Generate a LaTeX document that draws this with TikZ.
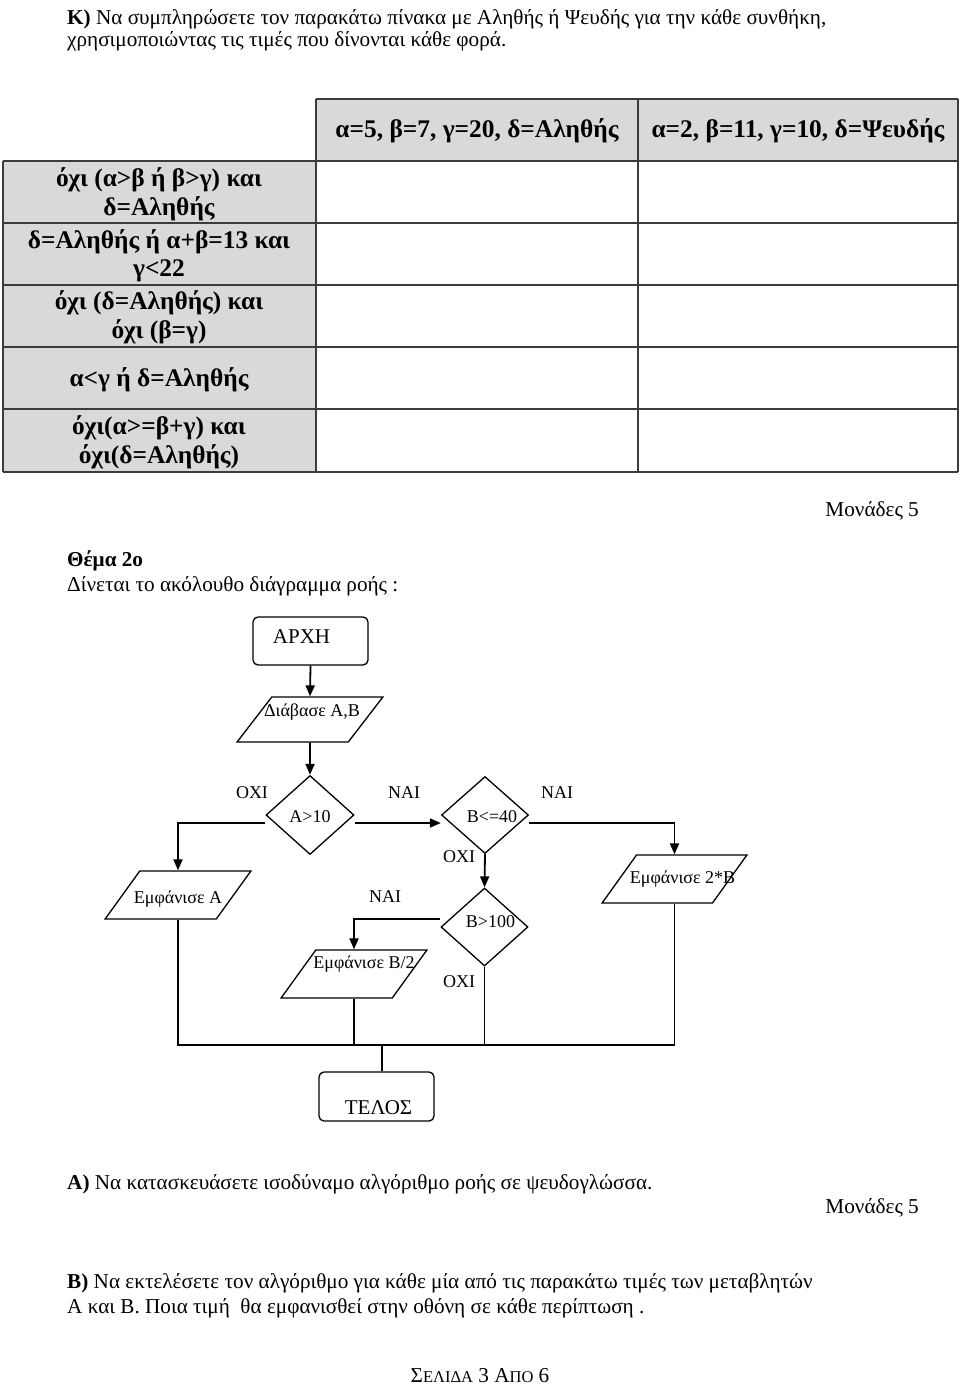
\documentclass[tikz,border=0pt]{standalone}
\usepackage{fontspec}
\setmainfont{Liberation Serif}
\usetikzlibrary{shapes.geometric,arrows.meta}
\definecolor{cellgray}{RGB}{217,217,217}
\definecolor{gridline}{RGB}{60,60,60}
\newcommand\bodyfs{\fontsize{21.2}{25}\selectfont}
\newcommand\tabfs{\fontsize{25.4}{29}\selectfont\bfseries}
\newcommand\flowfs{\fontsize{18}{21}\selectfont}
\newcommand\termfs{\fontsize{21}{24}\selectfont}
\begin{document}
\begin{tikzpicture}[x=1pt,y=-1pt,
  txt/.style={inner sep=0pt,font=\bodyfs},
  tabtxt/.style={inner sep=0pt,font=\tabfs,anchor=mid},
  flbl/.style={inner sep=0pt,font=\flowfs,anchor=mid},
  term/.style={draw,line width=1.3pt,rounded corners=5pt,minimum width=115pt,minimum height=48pt,inner sep=0pt},
  io/.style={draw,line width=1.3pt,trapezium,trapezium left angle=60,trapezium right angle=120,trapezium stretches=true,minimum width=146pt,minimum height=48pt,inner sep=1pt},
  dec/.style={draw,line width=1.3pt,diamond,minimum width=88pt,minimum height=79pt,inner sep=0pt},
  arr/.style={line width=1.8pt,-{Triangle[length=11pt,width=9pt]}},
  ln/.style={line width=1.3pt}]
\useasboundingbox (0,0) rectangle (960,1387);

% ---------- heading ----------
\node[txt,anchor=mid west] (t1) at (67,22) {\textbf{Κ)} Να συμπληρώσετε τον παρακάτω πίνακα με Αληθής ή Ψευδής για την κάθε συνθήκη,};
\node[txt,anchor=mid west] (t2) at (67,44) {χρησιμοποιώντας τις τιμές που δίνονται κάθε φορά.};

% ---------- table ----------
\fill[cellgray] (316,99) rectangle (958,161);
\fill[cellgray] (3,161) rectangle (316,472);
\draw[gridline,line width=1.4pt] (316,99) -- (958,99);
\foreach \yy in {161,223,285,347,409,472} \draw[gridline,line width=1.4pt] (3,\yy) -- (958,\yy);
\draw[gridline,line width=1.4pt] (3,161) -- (3,472);
\foreach \xx in {316,638,958} \draw[gridline,line width=1.4pt] (\xx,99) -- (\xx,472);

\node[tabtxt] (h1) at (477,135) {α=5, β=7, γ=20, δ=Αληθής};
\node[tabtxt] (h2) at (798,135) {α=2, β=11, γ=10, δ=Ψευδής};
\node[tabtxt] (r1a) at (159,184) {όχι (α>β ή β>γ) και};
\node[tabtxt] (r1b) at (159,213) {δ=Αληθής};
\node[tabtxt] (r2a) at (159,246) {δ=Αληθής ή α+β=13 και};
\node[tabtxt] (r2b) at (159,274) {γ<22};
\node[tabtxt] (r3a) at (159,307) {όχι (δ=Αληθής) και};
\node[tabtxt] (r3b) at (159,336) {όχι (β=γ)};
\node[tabtxt] (r4) at (159,384) {α<γ ή δ=Αληθής};
\node[tabtxt] (r5a) at (159,432) {όχι(α>=β+γ) και};
\node[tabtxt] (r5b) at (159,461) {όχι(δ=Αληθής)};

\node[txt,anchor=mid east] (m1) at (919,514) {Μονάδες 5};
\node[txt,anchor=mid west] (th) at (67,564) {\textbf{Θέμα 2ο}};
\node[txt,anchor=mid west] (th2) at (67,589) {Δίνεται το ακόλουθο διάγραμμα ροής :};

% ---------- flowchart ----------
\node[term,label={[font=\termfs,inner sep=0pt,xshift=-9pt,yshift=4pt]center:ΑΡΧΗ}] (start) at (310.5,641) {};
\node[io,minimum height=45pt,label={[font=\flowfs,inner sep=0pt,xshift=2pt,yshift=7pt]center:Διάβασε Α,Β}] (read) at (310,719.5) {\phantom{M}};
\node[dec,label={[font=\flowfs,inner sep=0pt,yshift=-2pt]center:Α>10}] (a10) at (310,815) {};
\node[dec,minimum width=87pt,minimum height=77pt,label={[font=\flowfs,inner sep=0pt,xshift=7pt,yshift=-2pt]center:Β<=40}] (b40) at (485,815) {};
\node[dec,minimum width=87pt,minimum height=78pt,label={[font=\flowfs,inner sep=0pt,xshift=6pt,yshift=5pt]center:Β>100}] (b100) at (484.5,927) {};
\node[io,label={[font=\flowfs,inner sep=0pt,yshift=-4pt]center:Εμφάνισε Α}] (showA) at (178,895) {\phantom{M}};
\node[io,label={[font=\flowfs,inner sep=0pt,xshift=10pt,yshift=10pt]center:Εμφάνισε Β/2}] (showB2) at (354,974) {\phantom{M}};
\node[io,minimum width=145pt,label={[font=\flowfs,inner sep=0pt,xshift=8pt,yshift=0pt]center:Εμφάνισε 2*Β}] (show2B) at (674.5,879) {\phantom{M}};
\node[term,minimum height=49pt,label={[font=\termfs,inner sep=0pt,xshift=2pt,yshift=-11pt]center:ΤΕΛΟΣ}] (end) at (376.5,1096.5) {};

\node[flbl] (l1) at (252,796) {ΟΧΙ};
\node[flbl] (l2) at (404,796) {ΝΑΙ};
\node[flbl] (l3) at (557,796) {ΝΑΙ};
\node[flbl] (l4) at (459,860) {ΟΧΙ};
\node[flbl] (l5) at (385,900) {ΝΑΙ};
\node[flbl] (l6) at (459,985) {ΟΧΙ};

\coordinate (j) at (382,1045);
\draw[arr] (start.south) -- (read.north);
\draw[arr] (read.south) -- (a10.north);
\draw[arr] ([yshift=-8pt]a10.west) -| (showA.north);
\draw[arr] ([yshift=-8pt]a10.east) -- ([yshift=-8pt]b40.west);
\draw[arr] ([yshift=-8pt]b40.east) -| (show2B.north);
\draw[arr] (b40.south) -- (b100.north);
\draw[arr] ([yshift=8pt]b100.west) -| (showB2.north);
\draw[ln] (showA.south) -- (showA.south |- j) -- (show2B.south |- j) -- (show2B.south);
\draw[ln] (showB2.south) -- (showB2.south |- j);
\draw[ln] (b100.south) -- (b100.south |- j);
\draw[ln] (j) -- (j |- end.north);

% ---------- questions ----------
\node[txt,anchor=mid west] (qa) at (67,1187) {\textbf{Α)} Να κατασκευάσετε ισοδύναμο αλγόριθμο ροής σε ψευδογλώσσα.};
\node[txt,anchor=mid east] (m2) at (919,1211) {Μονάδες 5};
\node[txt,anchor=mid west] (qb1) at (67,1286) {\textbf{Β)} Να εκτελέσετε τον αλγόριθμο για κάθε μία από τις παρακάτω τιμές των μεταβλητών};
\node[txt,anchor=mid west] (qb2) at (67,1311) {Α και Β. Ποια τιμή \ θα εμφανισθεί στην οθόνη σε κάθε περίπτωση .};
\node[txt,anchor=mid] (page) at (480,1380) {Σ{\fontsize{16.5}{18}\selectfont ΕΛΙΔΑ} 3 Α{\fontsize{16.5}{18}\selectfont ΠΟ} 6};
\end{tikzpicture}
\end{document}
